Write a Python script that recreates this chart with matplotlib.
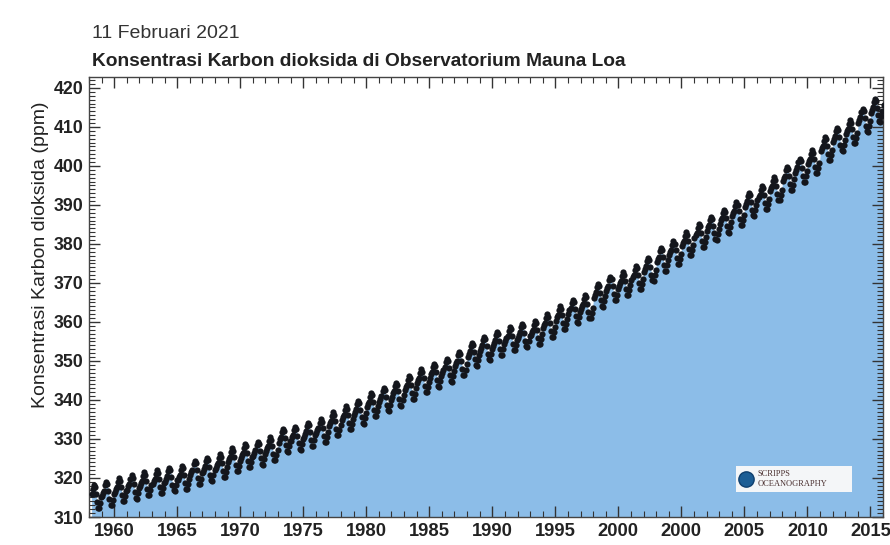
import numpy as np
import matplotlib
matplotlib.use("Agg")
import matplotlib.pyplot as plt
from matplotlib.patches import Rectangle
from matplotlib.ticker import MultipleLocator, FixedLocator

# ---- data ----
years = list(range(1958, 2022))
annual_mean = [315.2, 315.98, 316.91, 317.64, 318.45, 318.99, 319.62, 320.04,
               321.37, 322.18, 323.05, 324.62, 325.68, 326.32, 327.46, 329.68,
               330.19, 331.12, 332.03, 333.84, 335.41, 336.84, 338.76, 340.12,
               341.48, 343.15, 344.85, 346.35, 347.61, 349.31, 351.69, 353.20,
               354.45, 355.70, 356.54, 357.21, 358.96, 360.97, 362.74, 363.88,
               366.84, 368.54, 369.71, 371.32, 373.45, 375.98, 377.70, 379.98,
               382.09, 384.02, 385.83, 387.64, 390.10, 391.85, 394.06, 396.74,
               398.81, 401.01, 404.41, 406.76, 408.72, 411.66, 414.24, 416.1]
month_offset = [-0.6, 0.2, 0.8, 2.1, 3.0, 2.4, 0.7, -1.3, -2.8, -2.9, -1.5, -0.2]
first_month = 3   # record starts March 1958
last_month = 1    # ends January 2021

tick_years = [1960, 1965, 1970, 1975, 1980, 1985, 1990, 1995, 2000, 2005, 2010, 2015, 2020]
tick_labels = ["1960", "1965", "1970", "1975", "1980", "1985", "1990", "1995",
               "2000", "2000", "2005", "2010", "2015"]
y_ticks = [310, 320, 330, 340, 350, 360, 370, 380, 390, 400, 410, 420]

date_text = "11 Februari 2021"
title_text = "Konsentrasi Karbon dioksida di Observatorium Mauna Loa"
ylabel_text = "Konsentrasi Karbon dioksida (ppm)"

# ---- build monthly series ----
t, v = [], []
for yi, y in enumerate(years):
    for m in range(1, 13):
        if y == years[0] and m < first_month:
            continue
        if y == years[-1] and m > last_month:
            continue
        t.append(y + (m - 0.5) / 12.0)
        v.append(annual_mean[yi] + month_offset[m - 1])
t = np.array(t)
v = np.array(v)

plt.rcParams['font.family'] = ['Liberation Sans', 'DejaVu Sans']

fig = plt.figure(figsize=(8.9, 5.45), dpi=100)
ax = fig.add_axes([89 / 890, 1 - 517 / 545, (883 - 89) / 890, (517 - 77) / 545])

ymin, ymax = 310, 422.8
ax.fill_between(t, v, ymin, color="#8cbde8", lw=0, zorder=1)
ax.plot(t, v, "o", color="#14161c", markersize=4.5, markeredgewidth=0, zorder=3)

ax.set_xlim(1958.0, 2021.0)
ax.set_ylim(ymin, ymax)

ax.xaxis.set_major_locator(FixedLocator(tick_years))
ax.set_xticklabels(tick_labels)
ax.xaxis.set_minor_locator(MultipleLocator(1))
ax.set_yticks(y_ticks)
ax.yaxis.set_minor_locator(MultipleLocator(1))

ax.tick_params(axis="both", which="major", direction="in", length=8, width=1.0,
               color="#333333", top=True, right=True, pad=5)
ax.tick_params(axis="x", which="major", labelsize=13.2, pad=4)
ax.tick_params(axis="y", which="major", labelsize=12.8, pad=4)
ax.tick_params(axis="both", which="minor", direction="in", length=4, width=0.8,
               color="#333333", top=True, right=True)
for lab in ax.get_xticklabels() + ax.get_yticklabels():
    lab.set_fontweight("bold")
    lab.set_color("#222222")
for s in ax.spines.values():
    s.set_color("#444444")
    s.set_linewidth(1.0)

fig.text(41 / 890, 1 - 255 / 545, ylabel_text, fontsize=14, color="#222222",
         rotation=90, ha="center", va="center")

fig.text(92 / 890, 1 - 33 / 545, date_text, fontsize=14, color="#333333",
         ha="left", va="center")
fig.text(92 / 890, 1 - 62 / 545, title_text, fontsize=13.8, fontweight="bold",
         color="#222222", ha="left", va="center")

# Scripps logo box
bx0, by0, bw, bh = 0.815, 0.057, 0.146, 0.059
ax.add_patch(Rectangle((bx0, by0), bw, bh, transform=ax.transAxes,
                       facecolor="#f4f6f8", edgecolor="none", zorder=5))
ax.plot([bx0 + 0.012], [by0 + bh / 2], "o", transform=ax.transAxes,
        markersize=11, color="#1d5e95", markeredgecolor="#0f3f6e", zorder=6)
ax.text(bx0 + 0.027, by0 + bh * 0.68, "SCRIPPS", transform=ax.transAxes,
        fontsize=6, family="Liberation Serif", color="#4a3030", va="center", zorder=6)
ax.text(bx0 + 0.027, by0 + bh * 0.3, "OCEANOGRAPHY", transform=ax.transAxes,
        fontsize=6, family="Liberation Serif", color="#4a3030", va="center", zorder=6)

fig.savefig("out.png", dpi=100)
